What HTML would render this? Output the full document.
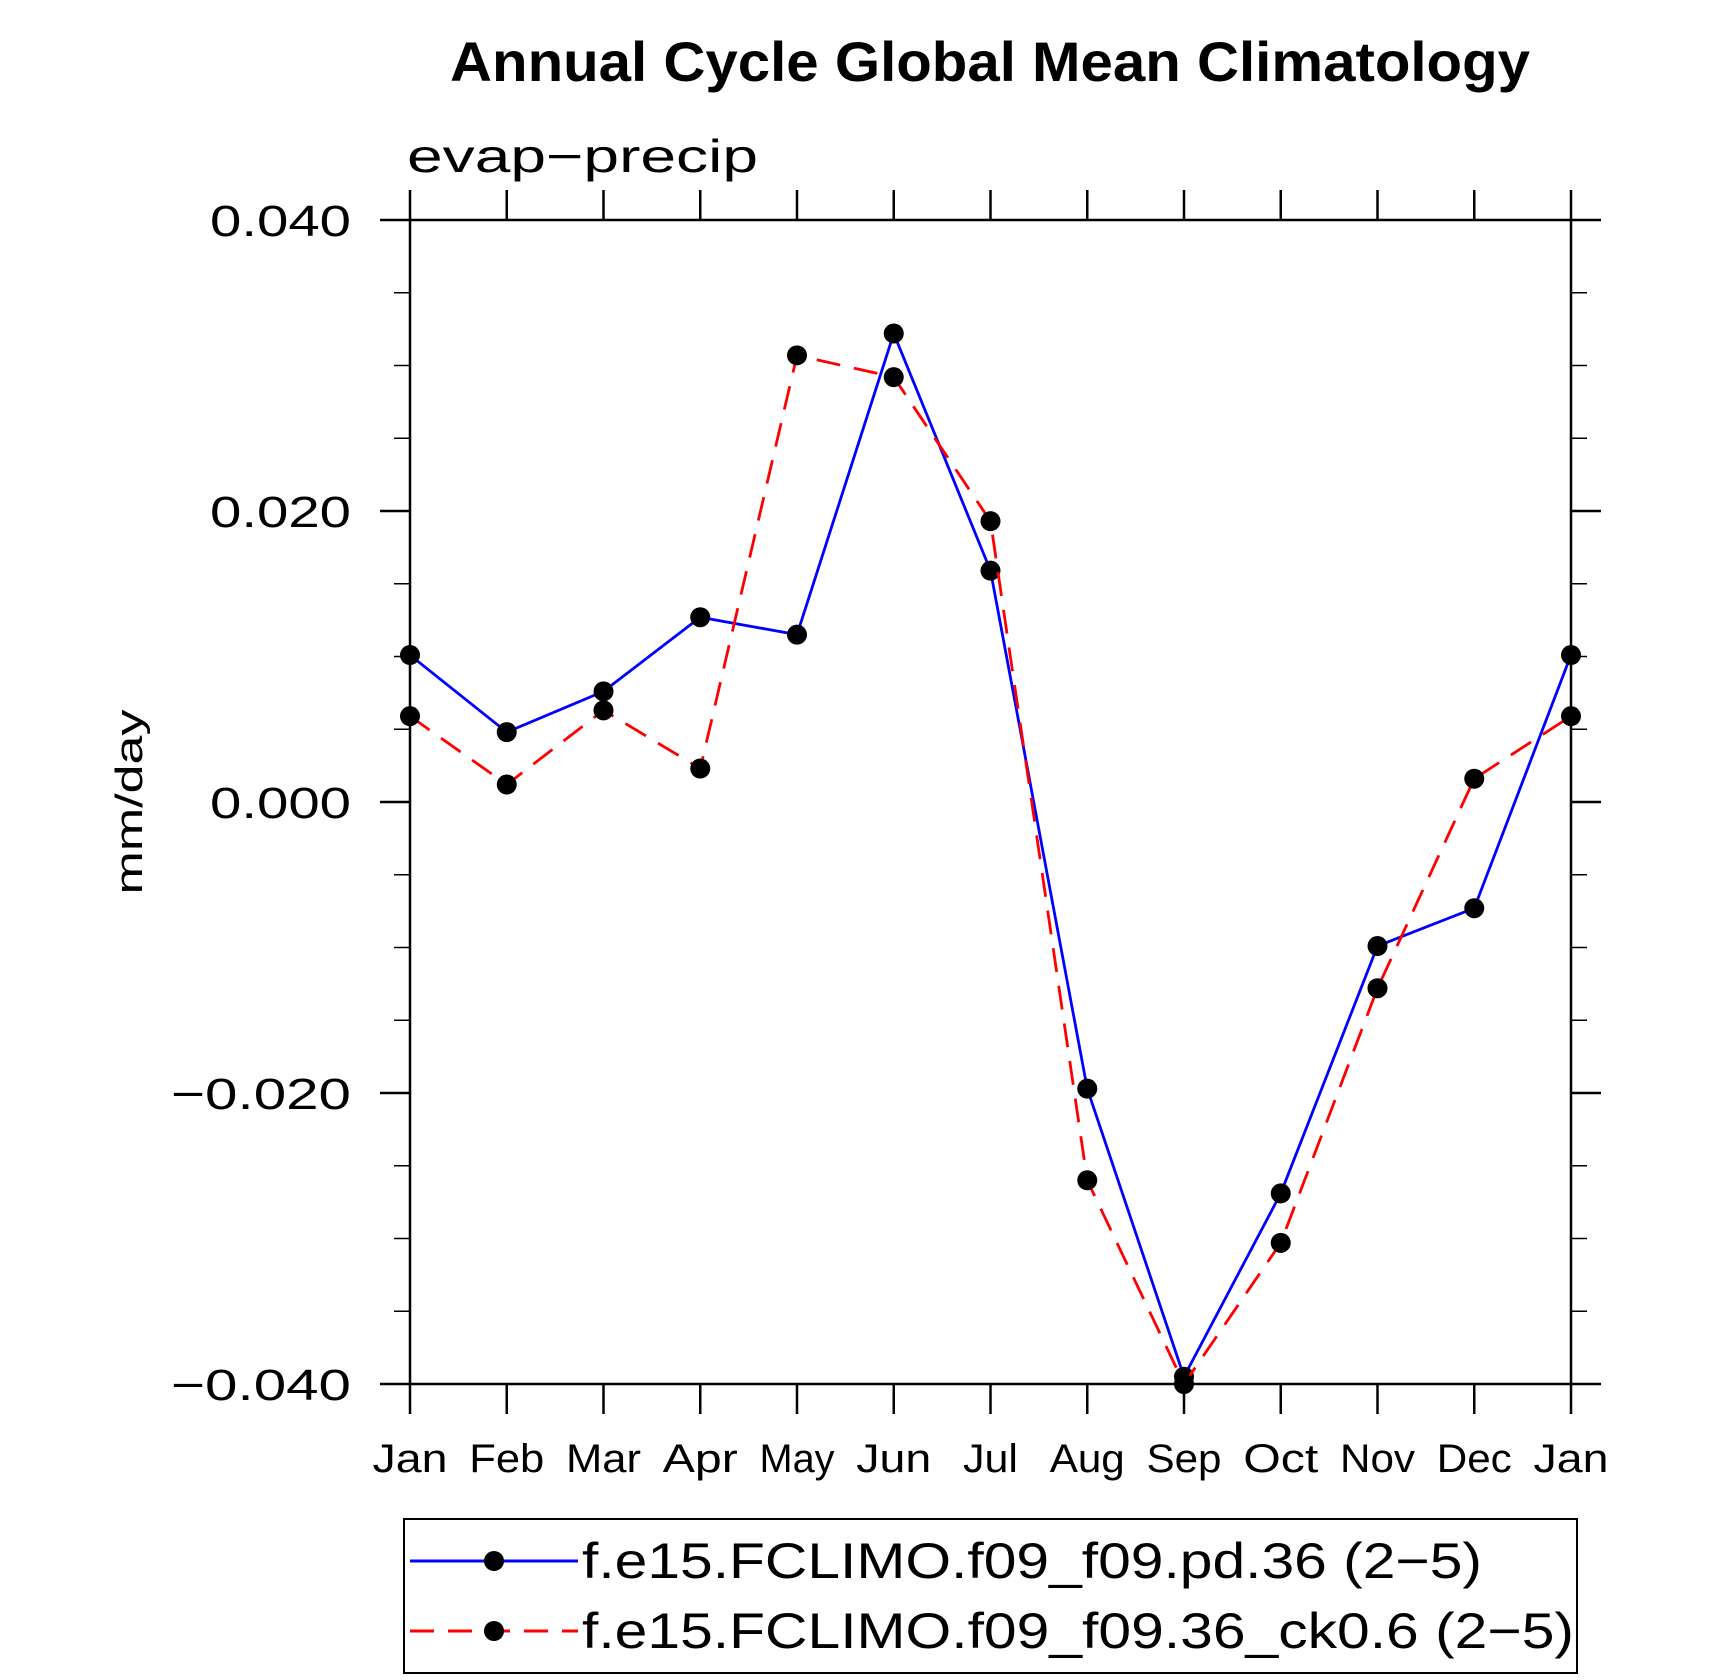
<!DOCTYPE html>
<html><head><meta charset="utf-8"><style>
html,body{margin:0;padding:0;background:#fff;}
svg{display:block;font-family:"Liberation Sans",sans-serif;}
</style></head><body>
<svg id="chart" width="1710" height="1680" viewBox="0 0 1710 1680">
<text x="990" y="81" text-anchor="middle" font-size="56" font-weight="bold" textLength="1080" lengthAdjust="spacingAndGlyphs">Annual Cycle Global Mean Climatology</text>
<text x="407" y="172" font-size="46" textLength="351" lengthAdjust="spacingAndGlyphs">evap−precip</text>
<text transform="translate(142,802) rotate(-90)" text-anchor="middle" font-size="38" textLength="185" lengthAdjust="spacingAndGlyphs">mm/day</text>
<g id="axes"></g>
<g id="series"></g>
<g>
<rect x="404" y="1519" width="1173" height="154" fill="none" stroke="#000" stroke-width="2"/>
<g>
<line x1="410" y1="1561" x2="578" y2="1561" stroke="#00f" stroke-width="3"/>
<circle cx="494" cy="1561" r="10"/>
<text x="582" y="1578" font-size="50" textLength="900" lengthAdjust="spacingAndGlyphs">f.e15.FCLIMO.f09_f09.pd.36 (2−5)</text>
</g>
<g>
<line x1="410" y1="1631" x2="578" y2="1631" stroke="#f00" stroke-width="3" stroke-dasharray="24,14"/>
<circle cx="494" cy="1631" r="10"/>
<text x="582" y="1648" font-size="50" textLength="992" lengthAdjust="spacingAndGlyphs">f.e15.FCLIMO.f09_f09.36_ck0.6 (2−5)</text>
</g>
</g>
</svg>
<script>
const months = ["Jan","Feb","Mar","Apr","May","Jun","Jul","Aug","Sep","Oct","Nov","Dec","Jan"];
const bluePd36 = [0.0101,0.0048,0.0076,0.0127,0.0115,0.0322,0.0159,-0.0197,-0.0395,-0.0269,-0.0099,-0.0073,0.0101];
const redCk06 = [0.0059,0.0012,0.0063,0.0023,0.0307,0.0292,0.0193,-0.0260,-0.0400,-0.0303,-0.0128,0.0016,0.0059];
const yTicks = [0.04,0.02,0,-0.02,-0.04];
const yTickLabels = ["0.040","0.020","0.000","−0.020","−0.040"];

const NS="http://www.w3.org/2000/svg";
const L=410,R=1571,T=220,B=1384,ymin=-0.04,ymax=0.04;
const xs=i=>L+(R-L)*i/(months.length-1);
const ys=v=>B-(v-ymin)/(ymax-ymin)*(B-T);
function mk(tag,attrs,parent){const e=document.createElementNS(NS,tag);for(const k in attrs)e.setAttribute(k,attrs[k]);parent.appendChild(e);return e;}
const ax=document.getElementById('axes');
const fr=mk('rect',{x:L,y:T,width:R-L,height:B-T,fill:'none',stroke:'#000','stroke-width':2.5},ax);


months.forEach((m,i)=>{const x=xs(i);
 mk('line',{x1:x,y1:B,x2:x,y2:B+30,stroke:'#000','stroke-width':2.5},ax);
 mk('line',{x1:x,y1:T,x2:x,y2:T-30,stroke:'#000','stroke-width':2.5},ax);
 const t=mk('text',{x:x,y:1472,'text-anchor':'middle','font-size':40,textLength:(m==='Jul'?55:75),lengthAdjust:'spacingAndGlyphs'},ax);t.textContent=m;
 
 
});
for(let v=ymin;v<=ymax+1e-9;v+=0.005){const y=ys(v);const major=Math.abs(Math.round(v*1000)%20)<1e-6;const len=major?30:16;
 mk('line',{x1:L,y1:y,x2:L-len,y2:y,stroke:'#000','stroke-width':major?2.5:1.5},ax);
 mk('line',{x1:R,y1:y,x2:R+len,y2:y,stroke:'#000','stroke-width':major?2.5:1.5},ax);}
yTicks.forEach((v,i)=>{const lab=yTickLabels[i];const t=mk('text',{x:351,y:ys(v)+16,'text-anchor':'end','font-size':44,textLength:lab.length===5?141:180,lengthAdjust:'spacingAndGlyphs'},ax);t.textContent=lab;
 
 });
const sg=document.getElementById('series');
function series(vals,color,dash,name){
 const g=mk('g',{},sg);
 
 
 const p=mk('polyline',{points:vals.map((v,i)=>xs(i)+','+ys(v)).join(' '),fill:'none',stroke:color,'stroke-width':2.8},g);
 if(dash)p.setAttribute('stroke-dasharray',dash);
 vals.forEach((v,i)=>{const c=mk('circle',{cx:xs(i),cy:ys(v),r:10,fill:'#000'},g);
  
  });
}
series(bluePd36,'#00f',null,'series-pd36');
series(redCk06,'#f00','24,14','series-ck06');
</script>
</body></html>
